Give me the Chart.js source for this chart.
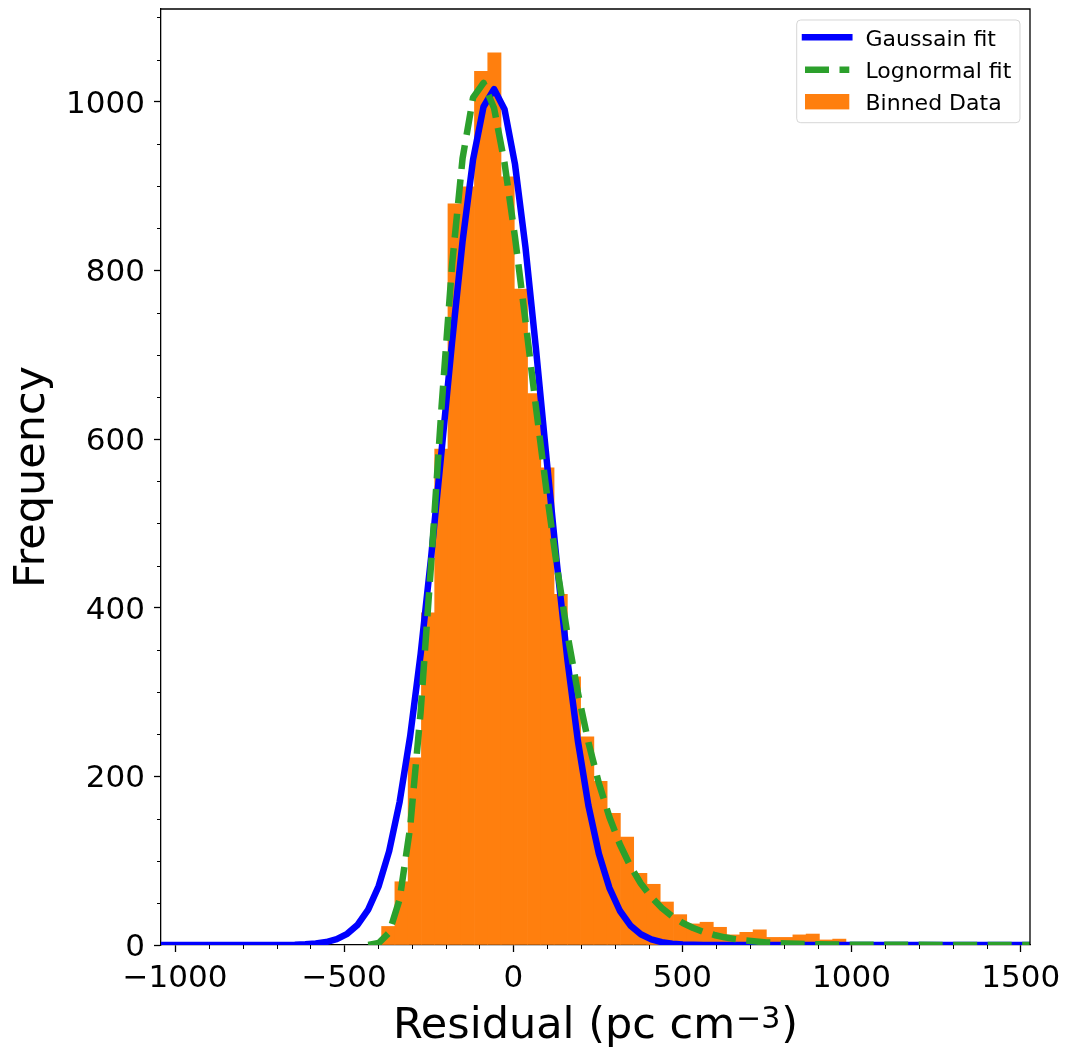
<!DOCTYPE html>
<html>
<head>
<meta charset="utf-8">
<script src="https://cdn.jsdelivr.net/npm/chart.js@4.4.0/dist/chart.umd.min.js"></script>
<style>
html,body{margin:0;padding:0;background:#ffffff;}
#wrap{width:1065px;height:1048px;}
canvas{display:block;}
</style>
</head>
<body>
<div id="wrap"><canvas id="c" width="1065" height="1048"></canvas></div>
<script>
// ---- Data ----
const binCenters = [-369.7, -330.5, -291.3, -252.0, -212.8, -173.6, -134.4, -95.2, -55.9, -16.7,
  22.5, 61.7, 100.9, 140.2, 179.4, 218.6, 257.8, 297.0, 336.3, 375.5,
  414.7, 453.9, 493.1, 532.4, 571.6, 610.8, 650.0, 689.2, 728.5, 767.7,
  806.9, 846.1, 885.3, 924.6, 963.8];
const binCounts = [22, 75, 222, 394, 588, 879, 899, 1036, 1058, 911,
  778, 654, 566, 416, 318, 247, 194, 156, 128, 85,
  72, 51, 36, 25, 27, 21, 12, 15, 18, 9,
  9, 12, 13, 6, 7];

const gaussX = [-1100, -708, -677, -646, -615, -584, -553, -522, -491, -460, -429, -398, -367, -336, -305, -274,
  -243, -212, -181, -150, -119, -88, -57, -26, 5, 36, 67, 98, 129, 160, 191, 222, 253, 284, 315, 346,
  377, 408, 439, 470, 501, 532, 563, 594, 1600];
const gaussY = [0, 0, 0.1, 0.3, 0.8, 1.7, 3.5, 7.0, 13.3, 24.1, 42.0, 69.9, 111.4, 169.8, 247.4, 344.8,
  459.8, 586.3, 715.2, 834.5, 931.3, 994.1, 1015, 991.2, 925.9, 827.3, 707.1, 578.0, 451.9, 338.0, 241.8, 165.4, 108.2, 67.8, 40.6, 23.2,
  12.7, 6.7, 3.3, 1.6, 0.7, 0.3, 0.1, 0, 0];

const lognX = [-429, -398, -367, -336, -305, -274, -243, -212, -181, -150, -119, -88, -57, -26, 5, 36, 67, 98, 129, 160,
  191, 222, 253, 284, 315, 346, 377, 408, 439, 470, 501, 532, 563, 594, 625, 656, 687, 718, 749, 780,
  811, 842, 873, 904, 935, 966, 997, 1028, 1059, 1090, 1600];
const lognY = [0.2, 2.3, 14.6, 54.1, 139.4, 276.3, 451.8, 638.7, 806.8, 932.9, 1004.9, 1022.4, 992.7, 927.6, 839.5, 739.9, 637.7, 539.2, 448.9, 368.5,
  299.2, 240.5, 191.8, 151.8, 119.5, 93.6, 72.9, 56.7, 43.8, 33.9, 26.1, 20.1, 15.4, 11.9, 9.1, 7.0, 5.3, 4.1, 3.1, 2.4,
  1.8, 1.4, 1.1, 0.8, 0.6, 0.5, 0.4, 0.3, 0.2, 0.2, 0];

const xTickValues = [-1000, -500, 0, 500, 1000, 1500];
const yTickValues = [0, 200, 400, 600, 800, 1000];
const xMinorValues = [-900, -800, -700, -600, -400, -300, -200, -100, 100, 200, 300, 400, 600, 700, 800, 900, 1100, 1200, 1300, 1400];
const yMinorValues = [50, 100, 150, 250, 300, 350, 450, 500, 550, 650, 700, 750, 850, 900, 950, 1050, 1100];

const seriesLabels = ['Gaussain fit', 'Lognormal fit', 'Binned Data'];
const xTitleParts = ['Residual (pc cm', '\u22123', ')'];
const yTitle = 'Frequency';

// ---- Chart ----
Chart.defaults.font.family = "'DejaVu Sans', sans-serif";
Chart.defaults.color = '#000000';

const fmt = v => (v < 0 ? '\u2212' + Math.abs(v) : String(v));

const extras = {
  id: 'extras',
  afterDraw(chart) {
    const {ctx, chartArea: a, scales: {x, y}} = chart;
    ctx.save();
    // minor ticks
    ctx.strokeStyle = '#000000';
    ctx.lineWidth = 1;
    ctx.beginPath();
    xMinorValues.forEach(v => {
      const px = Math.round(x.getPixelForValue(v)) + 0.5;
      ctx.moveTo(px, a.bottom);
      ctx.lineTo(px, a.bottom + 4);
    });
    yMinorValues.forEach(v => {
      const py = Math.round(y.getPixelForValue(v)) + 0.5;
      ctx.moveTo(a.left, py);
      ctx.lineTo(a.left - 4, py);
    });
    ctx.stroke();
    // top and right spines
    ctx.lineWidth = 1.3;
    ctx.beginPath();
    ctx.moveTo(a.left, a.top);
    ctx.lineTo(a.right, a.top);
    ctx.lineTo(a.right, a.bottom);
    ctx.stroke();

    // x-axis title with superscript
    ctx.fillStyle = '#000000';
    ctx.textBaseline = 'alphabetic';
    ctx.textAlign = 'left';
    const bigFont = "43px 'DejaVu Sans'";
    const supFont = "30px 'DejaVu Sans'";
    ctx.font = bigFont;
    const w0 = ctx.measureText(xTitleParts[0]).width;
    const w2 = ctx.measureText(xTitleParts[2]).width;
    ctx.font = supFont;
    const w1 = ctx.measureText(xTitleParts[1]).width;
    const total = w0 + w1 + w2 + 2;
    let tx = (a.left + a.right) / 2 - total / 2;
    const baseY = a.bottom + 92.5;
    ctx.font = bigFont;
    ctx.fillText(xTitleParts[0], tx, baseY);
    tx += w0 + 1;
    ctx.font = supFont;
    ctx.fillText(xTitleParts[1], tx, baseY - 10);
    tx += w1 + 1;
    ctx.font = bigFont;
    ctx.fillText(xTitleParts[2], tx, baseY);

    // legend
    const ds = chart.data.datasets;
    const lx = a.right - 233.3, ly = a.top + 11, lw = 223.3, lh = 102.7;
    ctx.beginPath();
    ctx.roundRect(lx, ly, lw, lh, 4);
    ctx.fillStyle = 'rgba(255,255,255,0.8)';
    ctx.fill();
    ctx.lineWidth = 1;
    ctx.strokeStyle = 'rgba(204,204,204,0.8)';
    ctx.stroke();
    const rows = [ly + 17.3, ly + 49.8, ly + 81.7];
    const hx0 = lx + 8.3, hx1 = lx + 52.6;
    ctx.save();
    ctx.strokeStyle = ds[0].borderColor;
    ctx.lineWidth = ds[0].borderWidth;
    ctx.lineCap = 'square';
    ctx.beginPath();
    ctx.moveTo(hx0, rows[0]);
    ctx.lineTo(hx1, rows[0]);
    ctx.stroke();
    ctx.strokeStyle = ds[1].borderColor;
    ctx.lineWidth = ds[1].borderWidth;
    ctx.lineCap = 'butt';
    ctx.setLineDash(ds[1].borderDash);
    ctx.beginPath();
    ctx.moveTo(hx0, rows[1]);
    ctx.lineTo(hx1, rows[1]);
    ctx.stroke();
    ctx.restore();
    ctx.fillStyle = ds[2].backgroundColor;
    ctx.fillRect(hx0, rows[2] - 7.7, hx1 - hx0, 15.4);
    ctx.fillStyle = '#000000';
    ctx.font = "22px 'DejaVu Sans'";
    ctx.textBaseline = 'alphabetic';
    ctx.textAlign = 'left';
    ds.forEach((d, i) => {
      ctx.fillText(d.label, lx + 68.8, rows[i] + 8.2);
    });
    ctx.restore();
  }
};

new Chart(document.getElementById('c'), {
  type: 'bar',
  data: {
    datasets: [
      {
        type: 'line',
        label: seriesLabels[0],
        data: gaussX.map((v, i) => ({x: v, y: gaussY[i]})),
        borderColor: '#0000ff',
        borderWidth: 6.5,
        borderJoinStyle: 'round',
        pointRadius: 0,
        fill: false,
        tension: 0,
        clip: 0,
        order: 1
      },
      {
        type: 'line',
        label: seriesLabels[1],
        data: lognX.map((v, i) => ({x: v, y: lognY[i]})),
        borderColor: '#2ca02c',
        borderWidth: 6.5,
        borderDash: [24, 10.5],
        borderJoinStyle: 'round',
        pointRadius: 0,
        fill: false,
        tension: 0,
        clip: 0,
        order: 0
      },
      {
        type: 'bar',
        label: seriesLabels[2],
        data: binCenters.map((v, i) => ({x: v, y: binCounts[i]})),
        backgroundColor: '#ff7f0e',
        borderWidth: 0,
        barPercentage: 1,
        categoryPercentage: 1,
        order: 2
      }
    ]
  },
  options: {
    responsive: false,
    animation: false,
    events: [],
    layout: {padding: {top: 0, right: 35, left: 0, bottom: 0}},
    plugins: {legend: {display: false}, tooltip: {enabled: false}},
    scales: {
      x: {
        type: 'linear',
        min: -1041.5,
        max: 1527.5,
        offset: false,
        grid: {offset: false, drawOnChartArea: false, drawTicks: true, tickLength: 7, tickWidth: 1.3, tickColor: '#000000'},
        border: {display: true, color: '#000000', width: 1.3},
        ticks: {font: {size: 31}, padding: 8, maxRotation: 0, autoSkip: false, color: '#000000', callback: v => fmt(v)},
        afterBuildTicks: s => { s.ticks = xTickValues.map(v => ({value: v})); },
        afterFit: s => { s.height = 103; s.paddingLeft = 0; s.paddingRight = 0; },
        title: {display: false}
      },
      y: {
        type: 'linear',
        min: 0,
        max: 1110,
        grid: {drawOnChartArea: false, drawTicks: true, tickLength: 7, tickWidth: 1.3, tickColor: '#000000'},
        border: {display: true, color: '#000000', width: 1.3},
        ticks: {font: {size: 31}, padding: 9, labelOffset: 3, autoSkip: false, color: '#000000', callback: v => fmt(v)},
        afterBuildTicks: s => { s.ticks = yTickValues.map(v => ({value: v})); },
        afterFit: s => { s.width = 161; s.paddingTop = 9; s.paddingBottom = 0; },
        title: {display: true, text: yTitle, font: {size: 43}, color: '#000000', padding: {top: 7, bottom: 0}}
      }
    }
  },
  plugins: [extras]
});
</script>
</body>
</html>
